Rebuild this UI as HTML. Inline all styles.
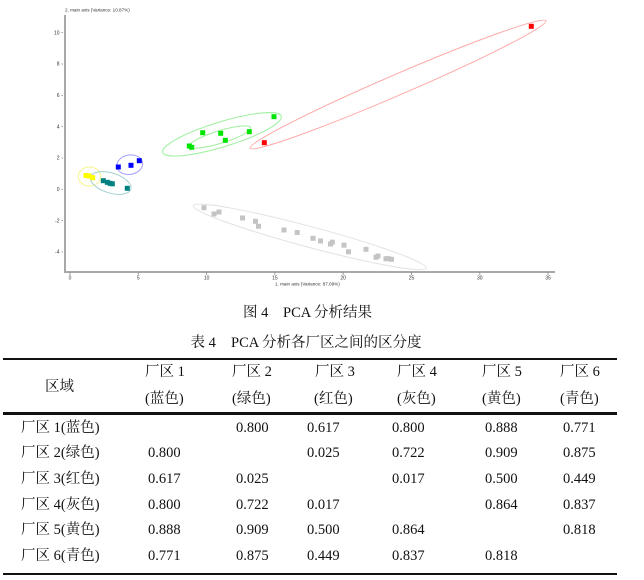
<!DOCTYPE html>
<html><head><meta charset="utf-8">
<style>
html,body{margin:0;padding:0;background:#fff;}
body{width:644px;height:580px;position:relative;overflow:hidden;}
.t{position:absolute;white-space:nowrap;line-height:20px;height:20px;font-family:"Liberation Serif","Noto Serif CJK SC",serif;font-size:14.5px;color:#111;}
.rule{position:absolute;left:3px;width:614px;background:#111;}
svg{position:absolute;left:0;top:0;}
</style></head>
<body>
<svg width="644" height="300" viewBox="0 0 644 300" xmlns="http://www.w3.org/2000/svg">
  <!-- axes -->
  <line x1="65" y1="15" x2="65" y2="272" stroke="#a8a8a8" stroke-width="2"/>
  <line x1="64" y1="272" x2="555" y2="272" stroke="#a8a8a8" stroke-width="2"/>
  <g stroke="#888" stroke-width="0.8">
    <line x1="70" y1="272" x2="70" y2="275"/>
    <line x1="138.3" y1="272" x2="138.3" y2="275"/>
    <line x1="206.6" y1="272" x2="206.6" y2="275"/>
    <line x1="274.9" y1="272" x2="274.9" y2="275"/>
    <line x1="343.2" y1="272" x2="343.2" y2="275"/>
    <line x1="411.5" y1="272" x2="411.5" y2="275"/>
    <line x1="479.8" y1="272" x2="479.8" y2="275"/>
    <line x1="548" y1="272" x2="548" y2="275"/>
    <line x1="61.5" y1="32.6" x2="63" y2="32.6"/>
    <line x1="61.5" y1="64" x2="63" y2="64"/>
    <line x1="61.5" y1="95.3" x2="63" y2="95.3"/>
    <line x1="61.5" y1="126.6" x2="63" y2="126.6"/>
    <line x1="61.5" y1="158" x2="63" y2="158"/>
    <line x1="61.5" y1="189.3" x2="63" y2="189.3"/>
    <line x1="61.5" y1="220.6" x2="63" y2="220.6"/>
    <line x1="61.5" y1="252" x2="63" y2="252"/>
  </g>
  <g font-family="Liberation Sans, sans-serif" font-size="5" fill="#333" text-anchor="middle">
    <text x="70" y="279.5">0</text>
    <text x="138.3" y="279.5">5</text>
    <text x="206.6" y="279.5">10</text>
    <text x="274.9" y="279.5">15</text>
    <text x="343.2" y="279.5">20</text>
    <text x="411.5" y="279.5">25</text>
    <text x="479.8" y="279.5">30</text>
    <text x="548" y="279.5">35</text>
  </g>
  <g font-family="Liberation Sans, sans-serif" font-size="5" fill="#333" text-anchor="end">
    <text x="59.5" y="34.3">10</text>
    <text x="59.5" y="65.7">8</text>
    <text x="59.5" y="97">6</text>
    <text x="59.5" y="128.3">4</text>
    <text x="59.5" y="159.7">2</text>
    <text x="59.5" y="191">0</text>
    <text x="59.5" y="222.3">-2</text>
    <text x="59.5" y="253.7">-4</text>
  </g>
  <text x="65" y="11.5" font-family="Liberation Sans, sans-serif" font-size="4.6" fill="#333">2. main axis (Variance: 10.87%)</text>
  <text x="275" y="285.3" font-family="Liberation Sans, sans-serif" font-size="4.6" fill="#333">1. main axis (Variance: 87.09%)</text>

  <!-- ellipses -->
  <g fill="none" stroke-width="1">
    <ellipse cx="222" cy="134.3" rx="62" ry="12.5" transform="rotate(-17 222 134.3)" stroke="#9ef09e"/>
    <ellipse cx="220" cy="137" rx="32" ry="6.3" transform="rotate(-17 220 137)" stroke="#9ef09e"/>
    <ellipse cx="398" cy="84.5" rx="161" ry="10.3" transform="rotate(-23.3 398 84.5)" stroke="#ffa8a8"/>
    <ellipse cx="129.7" cy="164.7" rx="13" ry="9.7" transform="rotate(-10 129.7 164.7)" stroke="#a0a0ff"/>
    <ellipse cx="89.5" cy="176.5" rx="11.2" ry="9.5" stroke="#f5f58a"/>
    <ellipse cx="110.7" cy="183" rx="21" ry="10" transform="rotate(17 110.7 183)" stroke="#9fd0d0"/>
    <ellipse cx="309.7" cy="236.9" rx="120.5" ry="10.3" transform="rotate(15 309.7 236.9)" stroke="#e2e2e2"/>
  </g>

  <!-- points -->
  <g fill="#c4c4c4">
    <rect x="201.5" y="205.2" width="5" height="5"/>
    <rect x="211.5" y="211.5" width="5" height="5"/>
    <rect x="216.5" y="209.5" width="5" height="5"/>
    <rect x="240" y="215.5" width="5" height="5"/>
    <rect x="253" y="218.8" width="5" height="5"/>
    <rect x="256" y="223.8" width="5" height="5"/>
    <rect x="281.5" y="227.5" width="5" height="5"/>
    <rect x="294.7" y="230" width="5" height="5"/>
    <rect x="310.5" y="235.8" width="5" height="5"/>
    <rect x="318" y="238.5" width="5" height="5"/>
    <rect x="328" y="241.5" width="5" height="5"/>
    <rect x="329.8" y="239.7" width="5" height="5"/>
    <rect x="341.5" y="242.7" width="5" height="5"/>
    <rect x="346" y="249.3" width="5" height="5"/>
    <rect x="363.5" y="246.8" width="5" height="5"/>
    <rect x="373.5" y="254.8" width="5" height="5"/>
    <rect x="375.5" y="253.5" width="5" height="5"/>
    <rect x="383.5" y="256.2" width="5" height="5"/>
    <rect x="386" y="256.2" width="5" height="5"/>
    <rect x="389" y="256.8" width="5" height="5"/>
  </g>
  <g fill="#00e400">
    <rect x="271.5" y="114.2" width="5" height="5"/>
    <rect x="200.2" y="130.2" width="5" height="5"/>
    <rect x="218.2" y="130.8" width="5" height="5"/>
    <rect x="246.8" y="129.2" width="5" height="5"/>
    <rect x="222.8" y="137.8" width="5" height="5"/>
    <rect x="186.8" y="143.5" width="5" height="5"/>
    <rect x="189.2" y="144.8" width="5" height="5"/>
  </g>
  <g fill="#ff0000">
    <rect x="261.8" y="140.2" width="5" height="5"/>
    <rect x="528.8" y="23.8" width="5" height="5"/>
  </g>
  <g fill="#0000ff">
    <rect x="115.8" y="164.5" width="5" height="5"/>
    <rect x="128.5" y="162.8" width="5" height="5"/>
    <rect x="136.8" y="158.2" width="5" height="5"/>
  </g>
  <g fill="#ffff00">
    <rect x="83.5" y="173" width="5" height="5"/>
    <rect x="86.5" y="173.5" width="5" height="5"/>
    <rect x="90.2" y="175.2" width="5" height="5"/>
  </g>
  <g fill="#008080">
    <rect x="100.8" y="178.2" width="5" height="5"/>
    <rect x="104.8" y="179.8" width="5" height="5"/>
    <rect x="107.5" y="180.8" width="5" height="5"/>
    <rect x="109.8" y="181.3" width="5" height="5"/>
    <rect x="124.8" y="185.8" width="5" height="5"/>
  </g>
</svg>

<!-- captions -->
<div class="t" style="left:243px;top:303px;">图 4</div>
<div class="t" style="left:283px;top:303px;">PCA 分析结果</div>
<div class="t" style="left:190.5px;top:333px;">表 4</div>
<div class="t" style="left:231px;top:333px;">PCA 分析各厂区之间的区分度</div>

<!-- rules -->
<div class="rule" style="top:357.5px;height:2.5px;"></div>
<div class="rule" style="top:412px;height:2.5px;"></div>
<div class="rule" style="top:572.5px;height:2.5px;"></div>

<!-- header -->
<div class="t" style="left:45px;top:377px;">区域</div>
<div class="t" style="left:145px;top:362px;">厂区 1</div>
<div class="t" style="left:232px;top:362px;">厂区 2</div>
<div class="t" style="left:315px;top:362px;">厂区 3</div>
<div class="t" style="left:397px;top:362px;">厂区 4</div>
<div class="t" style="left:482px;top:362px;">厂区 5</div>
<div class="t" style="left:560px;top:362px;">厂区 6</div>
<div class="t" style="left:145px;top:389px;">(蓝色)</div>
<div class="t" style="left:232px;top:389px;">(绿色)</div>
<div class="t" style="left:314px;top:389px;">(红色)</div>
<div class="t" style="left:397px;top:389px;">(灰色)</div>
<div class="t" style="left:482px;top:389px;">(黄色)</div>
<div class="t" style="left:560px;top:389px;">(青色)</div>

<!-- rows -->
<div class="t" style="left:21px;top:418px;">厂区 1(蓝色)</div>
<div class="t" style="left:236px;top:418px;">0.800</div>
<div class="t" style="left:307px;top:418px;">0.617</div>
<div class="t" style="left:392px;top:418px;">0.800</div>
<div class="t" style="left:485px;top:418px;">0.888</div>
<div class="t" style="left:563px;top:418px;">0.771</div>

<div class="t" style="left:21px;top:443.3px;">厂区 2(绿色)</div>
<div class="t" style="left:148px;top:443.3px;">0.800</div>
<div class="t" style="left:307px;top:443.3px;">0.025</div>
<div class="t" style="left:392px;top:443.3px;">0.722</div>
<div class="t" style="left:485px;top:443.3px;">0.909</div>
<div class="t" style="left:563px;top:443.3px;">0.875</div>

<div class="t" style="left:21px;top:469.3px;">厂区 3(红色)</div>
<div class="t" style="left:148px;top:469.3px;">0.617</div>
<div class="t" style="left:236px;top:469.3px;">0.025</div>
<div class="t" style="left:392px;top:469.3px;">0.017</div>
<div class="t" style="left:485px;top:469.3px;">0.500</div>
<div class="t" style="left:563px;top:469.3px;">0.449</div>

<div class="t" style="left:21px;top:495px;">厂区 4(灰色)</div>
<div class="t" style="left:148px;top:495px;">0.800</div>
<div class="t" style="left:236px;top:495px;">0.722</div>
<div class="t" style="left:307px;top:495px;">0.017</div>
<div class="t" style="left:485px;top:495px;">0.864</div>
<div class="t" style="left:563px;top:495px;">0.837</div>

<div class="t" style="left:21px;top:520px;">厂区 5(黄色)</div>
<div class="t" style="left:148px;top:520px;">0.888</div>
<div class="t" style="left:236px;top:520px;">0.909</div>
<div class="t" style="left:307px;top:520px;">0.500</div>
<div class="t" style="left:392px;top:520px;">0.864</div>
<div class="t" style="left:563px;top:520px;">0.818</div>

<div class="t" style="left:21px;top:545.5px;">厂区 6(青色)</div>
<div class="t" style="left:148px;top:545.5px;">0.771</div>
<div class="t" style="left:236px;top:545.5px;">0.875</div>
<div class="t" style="left:307px;top:545.5px;">0.449</div>
<div class="t" style="left:392px;top:545.5px;">0.837</div>
<div class="t" style="left:485px;top:545.5px;">0.818</div>
</body></html>
